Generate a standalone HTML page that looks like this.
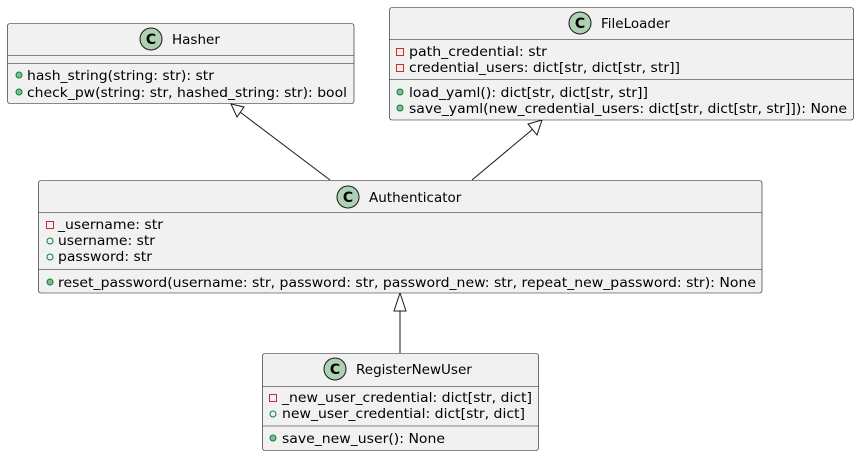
<!DOCTYPE html>
<html><head><meta charset="utf-8"><style>
html,body{margin:0;padding:0;background:#fff;}
svg{display:block;font-family:"DejaVu Sans","Liberation Sans",sans-serif;}
text{font-size:13.5px;fill:#000;}
.box{fill:#f1f1f1;stroke:#181818;stroke-width:0.6;}
.ln{stroke:#181818;stroke-width:0.6;}
.c{fill:#add1b2;stroke:#181818;stroke-width:1;}
.cl{font-size:14px;font-weight:bold;}
</style></head><body>
<svg width="859" height="456" viewBox="0 0 859 456" xmlns="http://www.w3.org/2000/svg">
<defs>
<g id="priv"><rect x="-3.5" y="-3.5" width="7" height="7" fill="none" stroke="#c82930" stroke-width="1"/></g>
<g id="pubf"><circle r="3" fill="none" stroke="#038048" stroke-width="1"/></g>
<g id="pubm"><circle r="3" fill="#84be84" stroke="#038048" stroke-width="1"/></g>
</defs>

<line x1="330" y1="180" x2="240" y2="112" stroke="#181818"/>
<polygon points="231,104 244,107 237,117" fill="#fff" stroke="#181818"/>
<line x1="472" y1="180" x2="533" y2="129" stroke="#181818"/>
<polygon points="542,120 537,135 528,124" fill="#fff" stroke="#181818"/>
<line x1="400" y1="353" x2="400" y2="311" stroke="#181818"/>
<polygon points="400,293 406,311 394,311" fill="#fff" stroke="#181818"/>

<rect class="box" x="7.5" y="23.5" width="346.5" height="80" rx="2.5"/>
<line class="ln" x1="7.5" y1="55.5" x2="354" y2="55.5"/>
<line class="ln" x1="7.5" y1="63.5" x2="354" y2="63.5"/>
<circle class="c" cx="151" cy="39" r="11"/>
<text x="151" y="44" text-anchor="middle" class="cl">C</text>
<text x="172" y="44" font-size="14">Hasher</text>
<use href="#pubm" x="19" y="75"/>
<text x="27" y="80" textLength="187" lengthAdjust="spacingAndGlyphs">hash_string(string: str): str</text>
<use href="#pubm" x="19" y="92"/>
<text x="27" y="97" textLength="320" lengthAdjust="spacingAndGlyphs">check_pw(string: str, hashed_string: str): bool</text>

<rect class="box" x="389.5" y="7.5" width="464" height="112.5" rx="2.5"/>
<line class="ln" x1="389.5" y1="39.5" x2="853.5" y2="39.5"/>
<line class="ln" x1="389.5" y1="79.5" x2="853.5" y2="79.5"/>
<circle class="c" cx="580" cy="23" r="11"/>
<text x="580" y="28" text-anchor="middle" class="cl">C</text>
<text x="601" y="28" font-size="14">FileLoader</text>
<use href="#priv" x="400" y="52"/>
<text x="409" y="56" textLength="138" lengthAdjust="spacingAndGlyphs">path_credential: str</text>
<use href="#priv" x="400" y="68"/>
<text x="409" y="72" textLength="271" lengthAdjust="spacingAndGlyphs">credential_users: dict[str, dict[str, str]]</text>
<use href="#pubm" x="400" y="92"/>
<text x="409" y="97" textLength="239" lengthAdjust="spacingAndGlyphs">load_yaml(): dict[str, dict[str, str]]</text>
<use href="#pubm" x="400" y="108"/>
<text x="409" y="113" textLength="438" lengthAdjust="spacingAndGlyphs">save_yaml(new_credential_users: dict[str, dict[str, str]]): None</text>

<rect class="box" x="38.5" y="180.5" width="723.5" height="112.5" rx="2.5"/>
<line class="ln" x1="38.5" y1="212.5" x2="762" y2="212.5"/>
<line class="ln" x1="38.5" y1="269.5" x2="762" y2="269.5"/>
<circle class="c" cx="348" cy="197" r="11"/>
<text x="348" y="202" text-anchor="middle" class="cl">C</text>
<text x="369" y="202" font-size="14">Authenticator</text>
<use href="#priv" x="50" y="225"/>
<text x="58" y="229" textLength="105" lengthAdjust="spacingAndGlyphs">_username: str</text>
<use href="#pubf" x="50" y="241"/>
<text x="58" y="245" textLength="97" lengthAdjust="spacingAndGlyphs">username: str</text>
<use href="#pubf" x="50" y="257"/>
<text x="58" y="261" textLength="94" lengthAdjust="spacingAndGlyphs">password: str</text>
<use href="#pubm" x="50" y="282"/>
<text x="58" y="287" textLength="698" lengthAdjust="spacingAndGlyphs">reset_password(username: str, password: str, password_new: str, repeat_new_password: str): None</text>

<rect class="box" x="262.5" y="353.5" width="276" height="97" rx="2.5"/>
<line class="ln" x1="262.5" y1="386.5" x2="538.5" y2="386.5"/>
<line class="ln" x1="262.5" y1="426" x2="538.5" y2="426"/>
<circle class="c" cx="335" cy="369" r="11"/>
<text x="335" y="374" text-anchor="middle" class="cl">C</text>
<text x="356" y="374" font-size="14">RegisterNewUser</text>
<use href="#priv" x="273" y="398"/>
<text x="282" y="402" textLength="250" lengthAdjust="spacingAndGlyphs">_new_user_credential: dict[str, dict]</text>
<use href="#pubf" x="273" y="414"/>
<text x="282" y="418" textLength="243" lengthAdjust="spacingAndGlyphs">new_user_credential: dict[str, dict]</text>
<use href="#pubm" x="273" y="438"/>
<text x="282" y="443" textLength="163" lengthAdjust="spacingAndGlyphs">save_new_user(): None</text>
</svg>
</body></html>
